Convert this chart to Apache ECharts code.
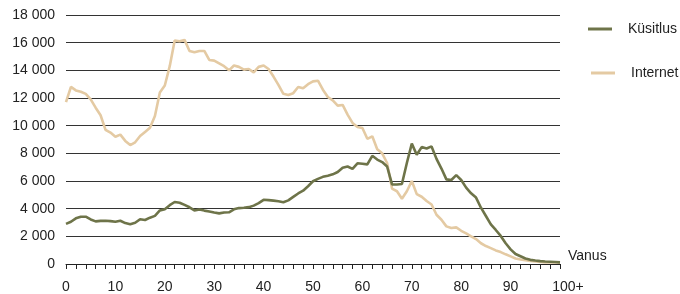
<!DOCTYPE html>
<html>
<head>
<meta charset="utf-8">
<script src="https://cdn.jsdelivr.net/npm/echarts@6/dist/echarts.min.js"></script>
<style>
  html, body { margin: 0; padding: 0; background: #fff; }
  #chart { width: 680px; height: 294px; }
</style>
</head>
<body>
<div id="chart"></div>
<script>
// vanus (0 .. 100+)
var ages = [0, 1, 2, 3, 4, 5, 6, 7, 8, 9, 10, 11, 12, 13, 14, 15, 16, 17, 18, 19,
  20, 21, 22, 23, 24, 25, 26, 27, 28, 29, 30, 31, 32, 33, 34, 35, 36, 37, 38, 39,
  40, 41, 42, 43, 44, 45, 46, 47, 48, 49, 50, 51, 52, 53, 54, 55, 56, 57, 58, 59,
  60, 61, 62, 63, 64, 65, 66, 67, 68, 69, 70, 71, 72, 73, 74, 75, 76, 77, 78, 79,
  80, 81, 82, 83, 84, 85, 86, 87, 88, 89, 90, 91, 92, 93, 94, 95, 96, 97, 98, 99, 100];

var kusitlus = [2900, 3050, 3300, 3420, 3420, 3220, 3080, 3120, 3130, 3100,
  3050, 3130, 2960, 2880, 2980, 3240, 3180, 3350, 3480, 3870,
  3960, 4250, 4480, 4430, 4270, 4100, 3870, 3940, 3860, 3800,
  3720, 3660, 3720, 3740, 3950, 4040, 4070, 4110, 4220, 4400,
  4640, 4620, 4580, 4530, 4460, 4600, 4850, 5100, 5300, 5620,
  5980, 6150, 6300, 6380, 6480, 6650, 6950, 7050, 6880, 7280,
  7250, 7200, 7820, 7550, 7370, 7050, 5750, 5750, 5780, 7300,
  8700, 7900, 8450, 8350, 8500, 7600, 6900, 6120, 6070, 6420,
  6070, 5520, 5110, 4800, 4070, 3470, 2870, 2460, 2030, 1500,
  1060, 720, 560, 400, 300, 250, 210, 180, 160, 140, 120];

var internet = [11700, 12800, 12550, 12450, 12300, 11900, 11300, 10750, 9700, 9500,
  9200, 9350, 8900, 8600, 8800, 9250, 9550, 9850, 10700, 12400,
  12900, 14300, 16150, 16100, 16200, 15400, 15300, 15400, 15400, 14750,
  14700, 14500, 14300, 14000, 14350, 14250, 14050, 14100, 13850, 14250,
  14350, 14100, 13550, 12950, 12300, 12220, 12350, 12800, 12700, 13000,
  13200, 13250, 12600, 12070, 11830, 11450, 11500, 10800, 10200, 9900,
  9830, 9050, 9230, 8300, 8000, 7300, 5450, 5260, 4720, 5260,
  6000, 5050, 4860, 4550, 4300, 3560, 3200, 2720, 2600, 2650,
  2400, 2220, 2000, 1800, 1500, 1300, 1150, 980, 860, 700,
  550, 400, 320, 270, 220, 190, 150, 120, 120, 120, 100];

var yTicks = [0, 2000, 4000, 6000, 8000, 10000, 12000, 14000, 16000, 18000];

var font = "'Liberation Sans', Arial, sans-serif";
var green = "#6e7449";
var tan = "#e4caa3";

function pairs(vals) {
  var out = [];
  for (var i = 0; i < ages.length; i++) out.push([ages[i], vals[i]]);
  return out;
}

var myChart = echarts.init(document.getElementById("chart"));
myChart.setOption({
  animation: false,
  textStyle: { fontFamily: font },
  grid: { left: 66, right: 120, top: 15, bottom: 30 },
  legend: [
    {
      orient: "vertical",
      left: 583,
      top: 17,
      icon: "rect",
      itemWidth: 24,
      itemHeight: 3,
      data: ["Küsitlus"],
      textStyle: { fontFamily: font, fontSize: 14, color: "#222", padding: [0, 0, 0, 11] }
    },
    {
      orient: "vertical",
      left: 586,
      top: 61,
      icon: "rect",
      itemWidth: 24,
      itemHeight: 3,
      data: ["Internet"],
      textStyle: { fontFamily: font, fontSize: 14, color: "#222", padding: [0, 0, 0, 11] }
    }
  ],
  xAxis: {
    type: "value",
    min: 0,
    max: 100,
    interval: 2,
    name: "Vanus",
    nameLocation: "end",
    nameGap: 8,
    nameTextStyle: { fontFamily: font, fontSize: 14, color: "#222", verticalAlign: "bottom", lineHeight: 16 },
    axisLine: { show: true, lineStyle: { color: "#222", width: 1 } },
    axisTick: { show: true, length: 5, lineStyle: { color: "#222" } },
    axisLabel: {
      margin: 16,
      fontFamily: font,
      fontSize: 14,
      color: "#222",
      formatter: function (v) {
        if (v === 100) return "{a|100+}";
        return v % 10 === 0 ? String(v) : "";
      },
      rich: { a: { fontFamily: font, fontSize: 14, color: "#222", padding: [0, 0, 0, 16] } }
    },
    splitLine: { show: false }
  },
  yAxis: {
    type: "value",
    min: yTicks[0],
    max: yTicks[yTicks.length - 1],
    interval: 2000,
    axisLine: { show: false },
    axisTick: { show: false },
    axisLabel: {
      margin: 11,
      fontFamily: font,
      fontSize: 14,
      color: "#222",
      formatter: function (v) {
        return String(v).replace(/\B(?=(\d{3})+(?!\d))/g, " ");
      }
    },
    splitLine: { show: true, lineStyle: { color: "#333", width: 1 } }
  },
  series: [
    {
      name: "Küsitlus",
      type: "line",
      data: pairs(kusitlus),
      symbol: "none",
      z: 3,
      itemStyle: { color: green },
      lineStyle: { color: green, width: 2.6 }
    },
    {
      name: "Internet",
      type: "line",
      data: pairs(internet),
      symbol: "none",
      z: 2,
      itemStyle: { color: tan },
      lineStyle: { color: tan, width: 2.6 }
    }
  ]
});
</script>
</body>
</html>
